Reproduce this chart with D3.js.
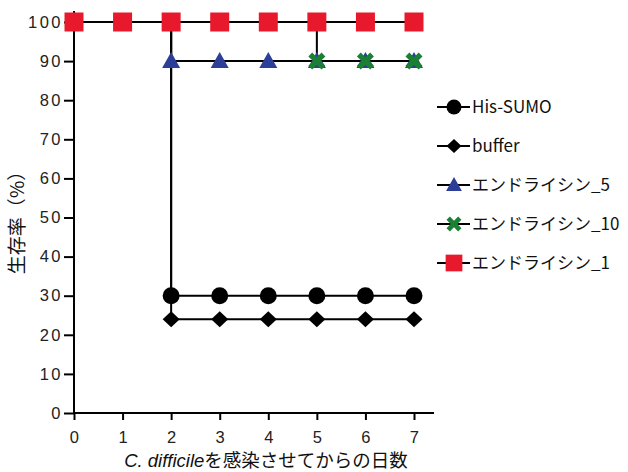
<!DOCTYPE html>
<html><head><meta charset="utf-8">
<script src="https://cdn.jsdelivr.net/npm/d3@7/dist/d3.min.js"></script>
<style>body{margin:0;background:#fff}</style>
</head><body>
<svg id="c" width="628" height="472"></svg>
<script>
const days = [0,1,2,3,4,5,6,7];
const seriesNames = ["His-SUMO","buffer","エンドライシン_5","エンドライシン_10","エンドライシン_1"];
const hisSumo = [100,100,30,30,30,30,30,30];
const buffer = [100,100,24,24,24,24,24,24];
const endo5 = [100,100,90,90,90,90,90,90];
const endo10 = [100,100,100,100,100,90,90,90];
const endo1 = [100,100,100,100,100,100,100,100];
const yTicks = [0,10,20,30,40,50,60,70,80,90,100];
const markerTypes = ["circle","diamond","triangle","cross","square"];
const colors = ["#000000","#000000","#2b3f98","#1b7f34","#e8192c"];

const svg = d3.select("#c");
const x = d3.scaleLinear().domain([0,7]).range([74,414]);
const y = d3.scaleLinear().domain([0,100]).range([413,22]);
const font = "'Liberation Sans', Arial, sans-serif";

// axes
const gx = svg.append("g").attr("transform","translate(0,413)")
  .call(d3.axisBottom(x).tickValues(days).tickFormat(d3.format("d")).tickSize(7).tickSizeOuter(0));
gx.select(".domain").remove();
svg.append("line").attr("x1",74).attr("x2",434).attr("y1",413).attr("y2",413).attr("stroke","#000").attr("stroke-width",2);
gx.selectAll(".tick line").attr("stroke-width",2);
gx.selectAll(".tick text").attr("font-size",16.5).attr("font-family",font).attr("fill","#222")
  .attr("y",18).attr("dy","0.71em").attr("dx",1.2).attr("letter-spacing",2.5);

const gy = svg.append("g").attr("transform","translate(74,0)")
  .call(d3.axisLeft(y).tickValues(yTicks).tickSize(10).tickPadding(1).tickSizeOuter(0));
gy.select(".domain").remove();
svg.append("line").attr("x1",74).attr("x2",74).attr("y1",11).attr("y2",413).attr("stroke","#000").attr("stroke-width",2);
gy.selectAll(".tick line").attr("stroke-width",2);
gy.selectAll(".tick text").attr("font-size",16.5).attr("font-family",font).attr("fill","#222").attr("letter-spacing",2.5);

// symbols
function sym(type, s){
  if(type==="circle") return d3.symbol(d3.symbolCircle, Math.PI*(8.5*s)*(8.5*s))();
  if(type==="square") return d3.symbol(d3.symbolSquare, (19*s)*(19*s))();
  if(type==="triangle"){const w=9*s,h=8*s;return `M0,${-h-1}L${w},${h-1}L${-w},${h-1}Z`;}
  if(type==="diamond"){const w=8.5*s,h=8*s;return `M0,${-h}L${w},0L0,${h}L${-w},0Z`;}
  if(type==="cross"){const a=8.5*s,b=3.8*s;
    return `M${-a},${-a+b}L${-a+b},${-a}L0,${-b}L${a-b},${-a}L${a},${-a+b}L${b},0L${a},${a-b}L${a-b},${a}L0,${b}L${-a+b},${a}L${-a},${a-b}L${-b},0Z`;}
}

const allSeries = [hisSumo,buffer,endo5,endo10,endo1];
const line = d3.line().x((d,i)=>x(days[i])).y(d=>y(d)).curve(d3.curveStepAfter);
allSeries.forEach(vals=>{
  svg.append("path").attr("d",line(vals)).attr("fill","none").attr("stroke","#000").attr("stroke-width",2);
});
allSeries.forEach((vals,si)=>{
  svg.append("g").selectAll("path").data(vals).join("path")
    .attr("transform",(d,i)=>`translate(${x(days[i])},${y(d)})`)
    .attr("d",sym(markerTypes[si],1))
    .attr("fill",colors[si]);
});

// legend
const legY = [107,146,185,224,263];
seriesNames.forEach((n,i)=>{
  const g = svg.append("g").attr("transform",`translate(0,${legY[i]})`);
  g.append("line").attr("x1",437).attr("x2",470).attr("y1",0).attr("y2",0).attr("stroke","#000").attr("stroke-width",2);
  g.append("path").attr("transform","translate(454,0)").attr("d",sym(markerTypes[i],0.88)).attr("fill",colors[i]);
  g.append("text").attr("x",472).attr("y",6).attr("font-size",17).attr("font-family","'Noto Sans CJK JP', 'Noto Sans', sans-serif").attr("fill","#111").text(n);
});

// y title
svg.append("text").attr("transform","translate(24,218) rotate(-90)").attr("text-anchor","middle")
  .attr("font-size",19).attr("font-family","'Noto Sans CJK JP', sans-serif").attr("fill","#111").text("生存率（%）");

// x title
const xt = svg.append("text").attr("x",266).attr("y",467).attr("text-anchor","middle")
  .attr("font-size",18.5).attr("font-family","'Noto Sans CJK JP', sans-serif").attr("fill","#111");
xt.append("tspan").attr("font-style","italic").attr("font-family","'Liberation Sans', Arial, sans-serif").text("C. difficile");
xt.append("tspan").text("を感染させてからの日数");
</script>
</body></html>
